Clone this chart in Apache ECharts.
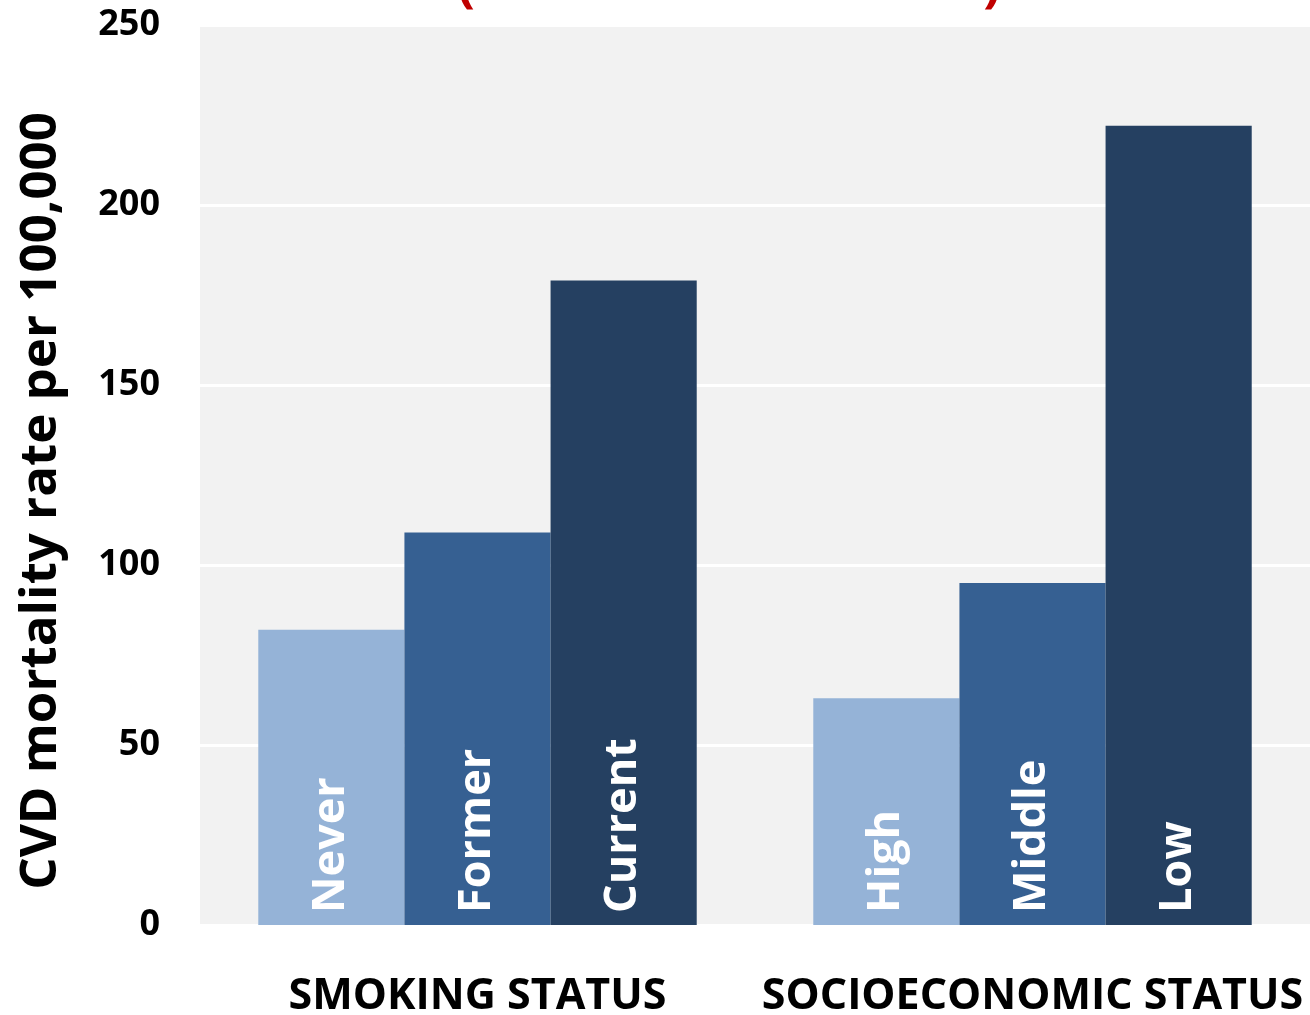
<!DOCTYPE html>
<html>
<head>
<meta charset="utf-8">
<title>CVD mortality rate by smoking and socioeconomic status</title>
<script src="https://cdn.jsdelivr.net/npm/echarts@6/dist/echarts.min.js"></script>
<style>
  html, body { margin: 0; padding: 0; background: #ffffff; }
  #chart { width: 1310px; height: 1015px; }
</style>
</head>
<body>
<div id="chart"></div>
<script>
// Groups along the x axis
const categories = ['SMOKING STATUS', 'SOCIOECONOMIC STATUS'];

// CVD mortality per 100,000, one array per tier (least to most risk)
const tierLow = [82, 63];
const tierMid = [109, 95];
const tierHigh = [179, 222];

// Names written inside each bar, per tier, per group
const tierLowNames = ['Never', 'High'];
const tierMidNames = ['Former', 'Middle'];
const tierHighNames = ['Current', 'Low'];

// Y axis ticks
const yTicks = [0, 50, 100, 150, 200, 250];

const FONT = '"Open Sans", "Noto Sans", sans-serif';
const tierColors = ['#95b3d7', '#366092', '#254061'];

function barSeries(values, names, color) {
  return {
    type: 'bar',
    data: values,
    barGap: '0%',
    barCategoryGap: '21%',
    itemStyle: { color: color },
    label: {
      show: true,
      position: 'insideBottom',
      distance: 12,
      rotate: 90,
      align: 'left',
      verticalAlign: 'middle',
      color: '#ffffff',
      fontFamily: FONT,
      fontWeight: 'bold',
      fontSize: 45,
      formatter: p => names[p.dataIndex]
    }
  };
}

const chart = echarts.init(document.getElementById('chart'), null, { renderer: 'canvas' });

chart.setOption({
  animation: false,
  backgroundColor: '#ffffff',
  grid: {
    left: 200, right: 0, top: 25, bottom: 90,
    outerBoundsMode: 'none',
    containLabel: false,
    show: true, backgroundColor: '#f2f2f2', borderWidth: 0
  },
  xAxis: {
    type: 'category',
    data: categories,
    axisLine: { show: false },
    axisTick: { show: false },
    axisLabel: {
      interval: 0,
      hideOverlap: false,
      color: '#000000',
      fontFamily: FONT,
      fontWeight: 'bold',
      fontSize: 43,
      margin: 50
    }
  },
  yAxis: {
    type: 'value',
    min: yTicks[0],
    max: yTicks[yTicks.length - 1],
    interval: yTicks[1] - yTicks[0],
    axisLine: { show: false },
    axisTick: { show: false },
    splitLine: { lineStyle: { color: '#ffffff', width: 3 } },
    axisLabel: {
      color: '#000000',
      fontFamily: FONT,
      fontWeight: 'bold',
      fontSize: 36,
      margin: 40,
      padding: [6, 0, 0, 0]
    }
  },
  graphic: [
    {
      type: 'text',
      x: 41, y: 501,
      rotation: Math.PI / 2,
      style: {
        text: 'CVD mortality rate per 100,000',
        fill: '#000000',
        font: 'bold 51px ' + FONT,
        textAlign: 'center',
        textVerticalAlign: 'middle'
      }
    },
    {
      type: 'text',
      x: 466, y: 12,
      style: {
        text: '(',
        fill: '#c00000',
        font: 'bold 52px ' + FONT,
        textAlign: 'center',
        textVerticalAlign: 'bottom'
      }
    },
    {
      type: 'text',
      x: 992, y: 12,
      style: {
        text: ')',
        fill: '#c00000',
        font: 'bold 52px ' + FONT,
        textAlign: 'center',
        textVerticalAlign: 'bottom'
      }
    }
  ],
  series: [
    barSeries(tierLow, tierLowNames, tierColors[0]),
    barSeries(tierMid, tierMidNames, tierColors[1]),
    barSeries(tierHigh, tierHighNames, tierColors[2])
  ]
});
</script>
</body>
</html>
